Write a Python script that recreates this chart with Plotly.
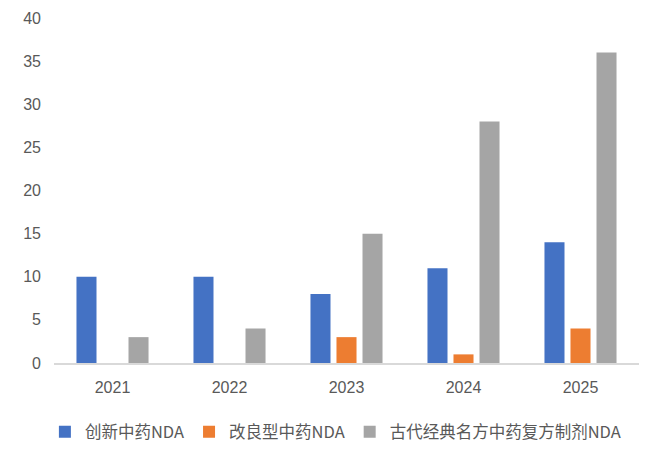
import plotly.graph_objects as go

years = ["2021", "2022", "2023", "2024", "2025"]
series_names = ["创新中药NDA", "改良型中药NDA", "古代经典名方中药复方制剂NDA"]
innovative = [10, 10, 8, 11, 14]
improved = [0, 0, 3, 1, 4]
classical = [3, 4, 15, 28, 36]
colors = ["#4472C4", "#ED7D31", "#A5A5A5"]

fig = go.Figure()
for name, vals, c in zip(series_names, [innovative, improved, classical], colors):
    fig.add_trace(go.Bar(x=years, y=vals, name=name, marker=dict(color=c, line=dict(width=0))))

font = dict(family="Liberation Sans, Arial, Noto Sans CJK SC", size=16, color="#595959")
fig.update_layout(
    width=645, height=452,
    margin=dict(l=54, r=6, t=18, b=89, autoexpand=False),
    paper_bgcolor="white", plot_bgcolor="white",
    barmode="group", bargap=0.333, bargroupgap=0.23,
    font=font,
    showlegend=True,
    legend=dict(orientation="h", xref="container", yref="container", x=0.52, xanchor="center",
                y=0.044, yanchor="middle",
                font=dict(family="Noto Sans CJK SC, Liberation Sans", size=16.5, color="#595959"),
                itemwidth=30, traceorder="normal"),
    xaxis=dict(showline=True, linecolor="#D9D9D9", linewidth=1.5, ticks="", showgrid=False,
               tickfont=font, ticklabelstandoff=9),
    yaxis=dict(range=[0, 40], dtick=5, showgrid=False, zeroline=False, showline=False,
               ticks="", tickfont=font, ticklabelstandoff=12),
)
fig.write_html("out.html", post_script="document.body.style.margin='0';",
               config={"displayModeBar": False})
